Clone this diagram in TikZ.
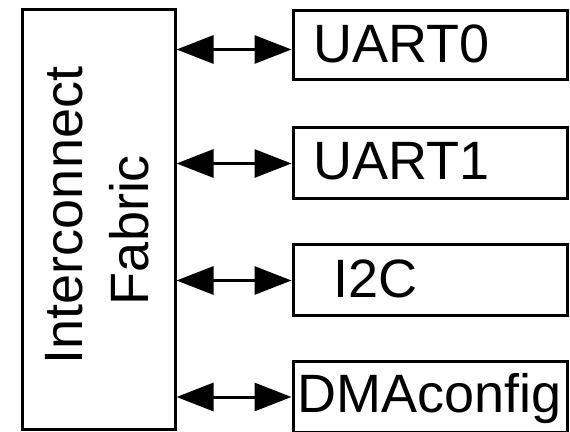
\documentclass[tikz,border=0pt]{standalone}
\usepackage{fontspec}
\setmainfont{Liberation Sans}
\usetikzlibrary{arrows.meta}
\begin{document}
\begin{tikzpicture}[x=1pt,y=1pt,
  box/.style={draw=black, line width=3pt, fill=white, inner sep=0pt},
  lbl/.style={inner sep=0pt, font=\fontsize{54}{66}\selectfont},
  biarrow/.style={line width=3pt, {Triangle[length=37pt,width=28pt]}-{Triangle[length=37pt,width=28pt]}}]
\useasboundingbox (0,0) rectangle (570,431);
\node[box, minimum width=153pt, minimum height=419pt] (big) at (98.5,211.5) {};
\node[box, minimum width=274pt, minimum height=69pt] (u0) at (430,385.5) {};
\node[box, minimum width=274pt, minimum height=71pt] (u1) at (430,267.5) {};
\node[box, minimum width=274pt, minimum height=71pt] (i2c) at (430,150.5) {};
\node[box, minimum width=274pt, minimum height=70pt] (dma) at (430,34) {};
\node[lbl, anchor=base west] (t0) at (313,368) {UART0};
\node[lbl, anchor=base west] (t1) at (313,251) {UART1};
\node[lbl, anchor=base west] (t2) at (333,133) {I2C};
\node[lbl, anchor=base west] (t3) at (297,19) {DMAconfig};
\node[lbl, rotate=90, anchor=base] (ic) at (82,215.5) {Interconnect};
\node[lbl, rotate=90, anchor=base] (fab) at (148,201) {Fabric};
\draw[biarrow] ([yshift=-4pt]u0.west -| big.east) -- ([yshift=-4pt]u0.west);
\draw[biarrow] (u1.west -| big.east) -- (u1.west);
\draw[biarrow] (i2c.west -| big.east) -- (i2c.west);
\draw[biarrow] (dma.west -| big.east) -- (dma.west);
\end{tikzpicture}
\end{document}
